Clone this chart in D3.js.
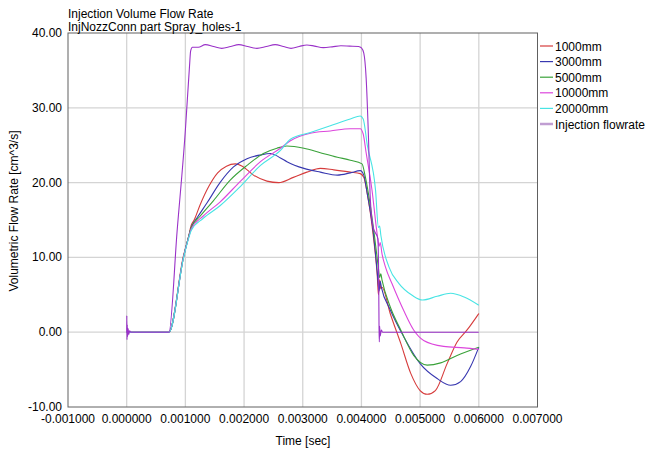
<!DOCTYPE html>
<html>
<head>
<meta charset="utf-8">
<script src="https://cdn.jsdelivr.net/npm/d3@7"></script>
<style>
  body { margin: 0; background: #fff; }
  svg { display: block; font-family: "Liberation Sans", Arial, sans-serif; }
</style>
</head>
<body>
<svg id="chart" width="652" height="452"></svg>
<script>
// times in ms, flow rate in cm^3/s
const red1000 = [[0,0],[0.72,0],[0.97,10.3],[1.05,12.6],[1.10,14.3],[1.15,15.0],[1.25,17.0],[1.40,19.5],[1.55,21.3],[1.70,22.2],[1.85,22.5],[1.97,22.2],[2.16,21.0],[2.39,20.2],[2.59,20.0],[2.84,20.7],[3.07,21.4],[3.30,21.9],[3.53,21.7],[3.81,21.4],[3.98,21.2],[4.04,20.7],[4.10,18.5],[4.20,13.0],[4.27,7.5],[4.29,5.0],[4.31,7.0],[4.33,5.8],[4.35,6.0],[4.49,2.5],[4.67,-1.5],[4.84,-5.5],[5.00,-7.8],[5.12,-8.3],[5.26,-7.8],[5.46,-4.2],[5.63,-1.3],[5.80,0.3],[6.00,2.5]];
const blue3000 = [[0,0],[0.72,0],[0.97,10.1],[1.05,12.6],[1.10,14.0],[1.20,15.3],[1.37,17.3],[1.59,20.0],[1.82,22.1],[2.05,23.2],[2.28,23.7],[2.45,23.9],[2.62,23.3],[2.73,22.8],[3.02,21.9],[3.30,21.4],[3.59,21.0],[3.81,21.3],[3.98,21.6],[4.04,21.0],[4.10,18.5],[4.20,13.5],[4.27,8.0],[4.30,5.5],[4.32,6.8],[4.34,6.0],[4.49,3.0],[4.72,-0.6],[5.00,-4.2],[5.29,-6.2],[5.52,-7.1],[5.69,-6.6],[5.86,-4.6],[6.00,-2.0]];
const green5000 = [[0,0],[0.72,0],[0.97,10.1],[1.05,12.6],[1.10,14.0],[1.25,15.5],[1.48,17.6],[1.76,20.3],[2.05,22.3],[2.33,23.9],[2.56,24.6],[2.73,24.9],[3.02,24.6],[3.30,24.0],[3.59,23.4],[3.81,23.0],[4.01,22.5],[4.06,21.0],[4.12,18.5],[4.22,13.0],[4.29,8.5],[4.31,7.3],[4.33,7.8],[4.35,7.0],[4.49,3.4],[4.67,0.3],[4.89,-3.1],[5.12,-4.4],[5.35,-4.1],[5.63,-3.1],[6.00,-2.0]];
const magenta10000 = [[0,0],[0.72,0],[0.97,10.1],[1.05,12.5],[1.10,13.8],[1.30,15.5],[1.59,17.4],[1.94,20.2],[2.28,22.8],[2.62,24.6],[2.79,25.6],[3.13,26.6],[3.47,26.9],[3.81,27.2],[3.98,27.2],[4.03,26.5],[4.08,24.0],[4.18,19.0],[4.27,13.0],[4.30,11.5],[4.32,12.0],[4.35,10.5],[4.41,8.7],[4.52,6.5],[4.72,2.9],[4.89,0.3],[5.06,-1.1],[5.40,-1.9],[5.75,-2.1],[6.00,-2.3]];
const cyan20000 = [[0,0],[0.72,0],[0.97,10.0],[1.05,12.4],[1.10,13.6],[1.30,15.2],[1.59,16.9],[1.94,19.5],[2.28,22.3],[2.62,24.3],[2.79,25.8],[3.13,26.7],[3.47,27.6],[3.81,28.5],[3.98,28.9],[4.03,28.5],[4.10,25.0],[4.24,19.0],[4.29,14.0],[4.31,14.2],[4.33,13.0],[4.47,8.7],[4.64,6.5],[4.87,4.9],[5.04,4.3],[5.29,4.8],[5.52,5.2],[5.75,4.7],[6.00,3.6]];
const injection = [[0,0],[0.002,2.2],[0.005,-1.0],[0.010,1.0],[0.015,-0.6],[0.025,0.5],[0.035,-0.3],[0.05,0.2],[0.07,0],[0.72,0],[0.86,13.6],[1.00,27.0],[1.07,35.5],[1.09,37.6],[1.12,38.1],[1.22,38.1],[1.34,38.45],[1.48,38.2],[1.62,37.95],[1.77,38.2],[1.91,38.45],[2.06,38.2],[2.22,37.95],[2.38,38.2],[2.53,38.45],[2.67,38.2],[2.80,37.95],[2.94,38.2],[3.07,38.4],[3.20,38.25],[3.35,38.05],[3.50,38.15],[3.65,38.3],[3.80,38.25],[3.95,38.2],[4.00,38.0],[4.04,37.3],[4.08,34.0],[4.12,26.0],[4.15,18.0],[4.20,14.0],[4.28,12.5],[4.295,6.0],[4.30,0.5],[4.305,-1.3],[4.31,0.8],[4.32,-0.5],[4.34,0.3],[4.36,0],[6.00,0]];

const seriesNames = ["1000mm", "3000mm", "5000mm", "10000mm", "20000mm", "Injection flowrate"];
const seriesData = [red1000, blue3000, green5000, magenta10000, cyan20000, injection];
const seriesColors = ["#d63c3c", "#3838b0", "#3aa23a", "#dc46dc", "#48e4e4", "#9a32c8"];
const legendColors = ["#d63c3c", "#3838b0", "#3aa23a", "#dc46dc", "#48e4e4", "#c09ed2"];

const xTicks = [-0.001, 0, 0.001, 0.002, 0.003, 0.004, 0.005, 0.006, 0.007];
const yTicks = [-10, 0, 10, 20, 30, 40];

const svg = d3.select("#chart");
const plotLeft = 68, plotRight = 537.5, plotTop = 33, plotBottom = 407;

const x = d3.scaleLinear().domain([-0.001, 0.007]).range([plotLeft, plotRight]);
const y = d3.scaleLinear().domain([-10, 40]).range([plotBottom, plotTop]);

// grid
svg.append("g").selectAll("line")
  .data(xTicks.slice(1, -1))
  .join("line")
  .attr("x1", d => x(d)).attr("x2", d => x(d))
  .attr("y1", plotTop).attr("y2", plotBottom)
  .attr("stroke", "#d4d4d4").attr("stroke-width", 1.3);

svg.append("g").selectAll("line")
  .data(yTicks.slice(1, -1))
  .join("line")
  .attr("x1", plotLeft).attr("x2", plotRight)
  .attr("y1", d => y(d)).attr("y2", d => y(d))
  .attr("stroke", "#d4d4d4").attr("stroke-width", 1.3);

// plot border
svg.append("rect")
  .attr("x", plotLeft).attr("y", plotTop)
  .attr("width", plotRight - plotLeft).attr("height", plotBottom - plotTop)
  .attr("fill", "none").attr("stroke", "#606060").attr("stroke-width", 1);

// tick labels
svg.append("g").selectAll("text")
  .data(xTicks)
  .join("text")
  .attr("x", d => x(d))
  .attr("y", 423)
  .attr("text-anchor", "middle")
  .attr("font-size", "12px")
  .attr("fill", "#000")
  .text(d => d.toFixed(6));

svg.append("g").selectAll("text")
  .data(yTicks)
  .join("text")
  .attr("x", 62)
  .attr("y", d => y(d) + 4)
  .attr("text-anchor", "end")
  .attr("font-size", "12px")
  .attr("fill", "#000")
  .text(d => d.toFixed(2));

// axis titles
svg.append("text")
  .attr("x", 303).attr("y", 445)
  .attr("text-anchor", "middle")
  .attr("font-size", "12px")
  .text("Time [sec]");

svg.append("text")
  .attr("transform", "translate(18,211) rotate(-90)")
  .attr("text-anchor", "middle")
  .attr("font-size", "12px")
  .text("Volumetric Flow Rate [cm^3/s]");

// chart titles
svg.append("text").attr("x", 68).attr("y", 18).attr("font-size", "12px").text("Injection Volume Flow Rate");
svg.append("text").attr("x", 68).attr("y", 31).attr("font-size", "12px").text("InjNozzConn part Spray_holes-1");

// curves
svg.append("clipPath").attr("id", "plotClip")
  .append("rect").attr("x", plotLeft).attr("y", plotTop).attr("width", plotRight - plotLeft).attr("height", plotBottom - plotTop);

const line = d3.line()
  .x(d => x(d[0] * 1e-3))
  .y(d => y(d[1]))
  .curve(d3.curveMonotoneX);

svg.append("g").attr("clip-path", "url(#plotClip)")
  .selectAll("path")
  .data(seriesData)
  .join("path")
  .attr("d", d => line(d))
  .attr("fill", "none")
  .attr("stroke", (d, i) => seriesColors[i])
  .attr("stroke-width", 1.1);

// legend
const legend = svg.append("g");
seriesNames.forEach((name, i) => {
  const ly = 46 + i * 15.6;
  legend.append("line")
    .attr("x1", 540).attr("x2", 553)
    .attr("y1", ly).attr("y2", ly)
    .attr("stroke", legendColors[i])
    .attr("stroke-width", i === 5 ? 2.5 : 1.2);
  legend.append("text")
    .attr("x", 555).attr("y", ly + 4.5)
    .attr("font-size", "12px")
    .attr("fill", "#000")
    .text(name);
});
</script>
</body>
</html>
